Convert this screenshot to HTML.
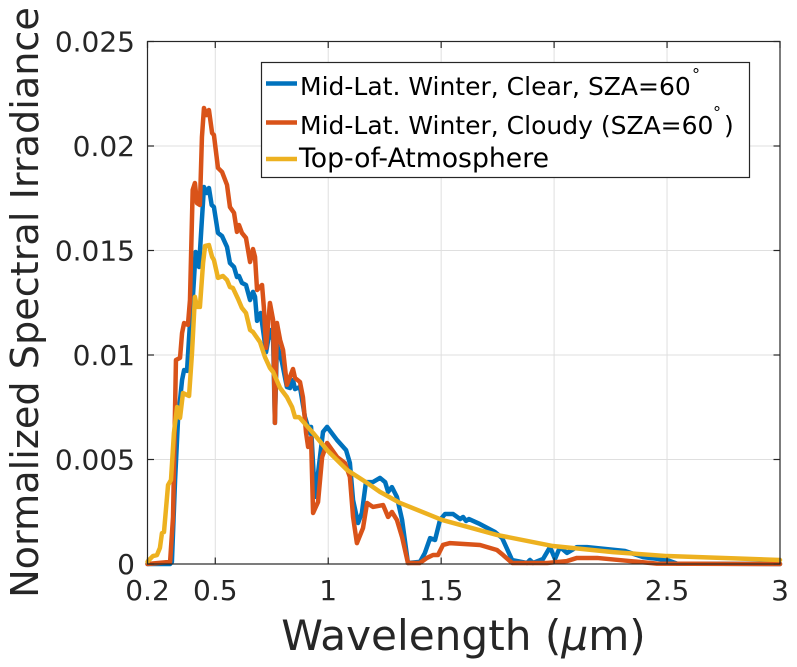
<!DOCTYPE html>
<html>
<head>
<meta charset="utf-8">
<title>Normalized Spectral Irradiance</title>
<style>
html,body{margin:0;padding:0;background:#fff;width:797px;height:667px;overflow:hidden}
svg{display:block;font-family:"DejaVu Sans","Liberation Sans",sans-serif}
</style>
</head>
<body>
<svg id="chart" width="797" height="667" viewBox="0 0 797 667" xmlns="http://www.w3.org/2000/svg">
<rect x="0" y="0" width="797" height="667" fill="#fff"/>
<g id="grid"></g>
<g id="series"></g>
<rect x="147.5" y="41.5" width="632.5" height="522.5" fill="none" stroke="#262626" stroke-width="1.2"/>
<g id="ticks"></g>
<g id="tick-labels" fill="#262626" font-size="28"></g>
<text x="463.5" y="650" font-size="42.2" fill="#262626" text-anchor="middle">Wavelength (<tspan font-style="italic">μ</tspan>m)</text>
<text transform="translate(38,302.5) rotate(-90)" font-size="38.2" fill="#262626" text-anchor="middle">Normalized Spectral Irradiance</text>
<g>
<rect x="261.5" y="62.5" width="488" height="115" fill="#fff" stroke="#262626" stroke-width="1.2"/>
<line x1="266" x2="297" y1="83.5" y2="83.5" stroke="#0072BD" stroke-width="4.5"/>
<line x1="266" x2="297" y1="122.5" y2="122.5" stroke="#D95319" stroke-width="4.5"/>
<line x1="266" x2="297" y1="159" y2="159" stroke="#EDB120" stroke-width="4.5"/>
<text x="300" y="95" font-size="25" fill="#000">Mid-Lat. Winter, Clear, SZA=60</text>
<text x="692" y="80" font-size="16" fill="#000">°</text>
<text x="300" y="134" font-size="25" fill="#000">Mid-Lat. Winter, Cloudy (SZA=60</text>
<text x="713" y="118" font-size="16" fill="#000">°</text>
<text x="724" y="134" font-size="25" fill="#000">)</text>
<text x="299" y="167" font-size="26.7" fill="#000">Top-of-Atmosphere</text>
</g>
</svg>
<script>
const xTickValues = [0.2, 0.5, 1, 1.5, 2, 2.5, 3];
const xTickLabels = ["0.2", "0.5", "1", "1.5", "2", "2.5", "3"];
const yTickValues = [0, 0.005, 0.01, 0.015, 0.02, 0.025];
const yTickLabels = ["0", "0.005", "0.01", "0.015", "0.02", "0.025"];

const clearWavelengths = [0.2,0.3,0.308,0.322,0.335,0.353,0.362,0.375,0.388,0.401,0.413,0.428,0.44,0.45,0.462,0.472,0.484,0.494,0.512,0.53,0.552,0.565,0.583,0.596,0.605,0.618,0.636,0.654,0.667,0.676,0.685,0.701,0.725,0.742,0.756,0.764,0.773,0.795,0.817,0.831,0.844,0.853,0.875,0.897,0.919,0.924,0.941,0.955,0.977,0.995,1.039,1.079,1.096,1.11,1.132,1.149,1.167,1.198,1.229,1.252,1.265,1.282,1.304,1.327,1.353,1.406,1.428,1.451,1.473,1.495,1.517,1.553,1.584,1.597,1.61,1.623,1.672,1.738,1.77,1.814,1.88,1.893,1.907,1.951,1.982,2.004,2.026,2.057,2.101,2.146,2.314,2.394,2.5,2.544,3];
const clearIrradiance = [0,0,0.0001,0.004,0.00689,0.0088,0.00928,0.00924,0.01153,0.01278,0.01493,0.01421,0.01632,0.01804,0.01775,0.01799,0.01718,0.01708,0.01584,0.01569,0.01517,0.0144,0.01421,0.01373,0.01378,0.01345,0.01335,0.01263,0.01302,0.01278,0.01163,0.01201,0.01014,0.0112,0.01072,0.00675,0.01048,0.00967,0.00847,0.00842,0.0088,0.00837,0.00847,0.00703,0.00627,0.00656,0.00321,0.00435,0.00632,0.00656,0.00593,0.00545,0.00483,0.00306,0.00196,0.00244,0.00392,0.00392,0.00412,0.00392,0.00345,0.00368,0.00321,0.00211,0.00005,0.0001,0.00053,0.00124,0.00115,0.00211,0.00239,0.00239,0.00215,0.00225,0.00206,0.00215,0.00191,0.00153,0.00124,0.00019,0.00005,0.00019,0.00005,0.00024,0.00081,0.00024,0.00081,0.00053,0.00081,0.00081,0.00062,0.00033,0.00019,0.00002,0];

const cloudyWavelengths = [0.2,0.3,0.313,0.326,0.344,0.353,0.362,0.379,0.388,0.4,0.41,0.419,0.432,0.441,0.45,0.461,0.472,0.486,0.494,0.512,0.53,0.552,0.565,0.583,0.596,0.605,0.618,0.636,0.654,0.667,0.676,0.685,0.707,0.715,0.725,0.742,0.756,0.764,0.773,0.787,0.8,0.817,0.844,0.853,0.875,0.888,0.902,0.911,0.924,0.933,0.955,0.973,0.995,1.039,1.074,1.096,1.11,1.127,1.154,1.172,1.198,1.243,1.265,1.282,1.304,1.327,1.353,1.406,1.437,1.464,1.486,1.508,1.539,1.672,1.747,1.774,1.814,1.969,2.057,2.101,2.19,2.336,2.455,3];
const cloudyIrradiance = [0,0.0001,0.00225,0.00976,0.00986,0.01105,0.01153,0.01144,0.01263,0.0179,0.01823,0.01727,0.01718,0.02043,0.02182,0.02148,0.02172,0.02062,0.02053,0.01895,0.01876,0.01814,0.01708,0.0168,0.01589,0.01622,0.01584,0.0156,0.01445,0.01507,0.01469,0.01311,0.01335,0.0123,0.01034,0.01249,0.01168,0.00675,0.01153,0.01072,0.01024,0.00857,0.00933,0.0089,0.00871,0.00799,0.00627,0.0056,0.00603,0.00244,0.00297,0.00512,0.00579,0.00512,0.00483,0.00416,0.00225,0.001,0.00172,0.00292,0.00273,0.00282,0.00225,0.00249,0.00211,0.00129,0.00005,0.00005,0.00029,0.00043,0.00043,0.00091,0.001,0.00091,0.00067,0.00043,0.00005,0.00005,0.00014,0.00029,0.00029,0.00014,0.00002,0];

const toaWavelengths = [0.2,0.202,0.224,0.242,0.255,0.264,0.273,0.291,0.304,0.317,0.331,0.344,0.357,0.384,0.397,0.41,0.419,0.432,0.446,0.455,0.472,0.486,0.494,0.512,0.534,0.552,0.565,0.578,0.601,0.618,0.636,0.654,0.667,0.698,0.72,0.742,0.756,0.787,0.817,0.84,0.853,0.871,0.933,0.995,1.083,1.172,1.229,1.318,1.504,1.747,1.995,2.261,2.5,3];
const toaIrradiance = [0.0001,0.00014,0.00038,0.00043,0.00077,0.00148,0.00153,0.00378,0.00402,0.00627,0.00751,0.00699,0.00818,0.00804,0.0101,0.01278,0.0123,0.0123,0.0144,0.01522,0.01526,0.01469,0.01455,0.01369,0.01378,0.01359,0.01325,0.01321,0.01268,0.01225,0.01201,0.0112,0.0111,0.01062,0.0099,0.00938,0.00919,0.00842,0.00799,0.00751,0.00703,0.00703,0.00627,0.00545,0.0045,0.00388,0.00345,0.00292,0.00211,0.00139,0.00086,0.00057,0.00038,0.00019];

const NS = "http://www.w3.org/2000/svg";
function xScale(w) { return 147.5 + (w - 0.2) * (632.5 / 2.8); }
function yScale(v) { return 564 - v * (522.5 / 0.025); }

const gridGroup = document.getElementById("grid");
const tickGroup = document.getElementById("ticks");
const labelGroup = document.getElementById("tick-labels");
const seriesGroup = document.getElementById("series");

function seg(parent, x1, y1, x2, y2, color, width) {
  const l = document.createElementNS(NS, "line");
  l.setAttribute("x1", x1);
  l.setAttribute("y1", y1);
  l.setAttribute("x2", x2);
  l.setAttribute("y2", y2);
  l.setAttribute("stroke", color);
  l.setAttribute("stroke-width", width);
  parent.appendChild(l);
  return l;
}

xTickValues.forEach(function (t, i) {
  const x = xScale(t);
  const g = seg(gridGroup, x, 41.5, x, 564, "#dfdfdf", 1);
  
  
  const b = seg(tickGroup, x, 564, x, 557.5, "#262626", 1.2);
  
  
  const a = seg(tickGroup, x, 41.5, x, 48, "#262626", 1.2);
  
  
  const txt = document.createElementNS(NS, "text");
  txt.setAttribute("x", x);
  txt.setAttribute("y", 600);
  txt.setAttribute("text-anchor", "middle");
  txt.textContent = xTickLabels[i];
  
  
  labelGroup.appendChild(txt);
});

yTickValues.forEach(function (t, i) {
  const y = yScale(t);
  const g = seg(gridGroup, 147.5, y, 780, y, "#dfdfdf", 1);
  
  
  const l = seg(tickGroup, 147.5, y, 154, y, "#262626", 1.2);
  
  
  const r = seg(tickGroup, 780, y, 773.5, y, "#262626", 1.2);
  
  
  const txt = document.createElementNS(NS, "text");
  txt.setAttribute("x", 135);
  txt.setAttribute("y", y + 10);
  txt.setAttribute("text-anchor", "end");
  txt.textContent = yTickLabels[i];
  
  
  labelGroup.appendChild(txt);
});

function drawSeries(wavelengths, values, color, width) {
  const p = document.createElementNS(NS, "polyline");
  p.setAttribute("points", wavelengths.map(function (w, i) {
    return xScale(w).toFixed(2) + "," + yScale(values[i]).toFixed(2);
  }).join(" "));
  p.setAttribute("fill", "none");
  p.setAttribute("stroke", color);
  p.setAttribute("stroke-width", width);
  p.setAttribute("stroke-linejoin", "round");
  p.setAttribute("stroke-linecap", "round");
  seriesGroup.appendChild(p);
  return p;
}

const clearLine = drawSeries(clearWavelengths, clearIrradiance, "#0072BD", 4.5);


const cloudyLine = drawSeries(cloudyWavelengths, cloudyIrradiance, "#D95319", 4.5);


const toaLine = drawSeries(toaWavelengths, toaIrradiance, "#EDB120", 4.5);


</script>
</body>
</html>
